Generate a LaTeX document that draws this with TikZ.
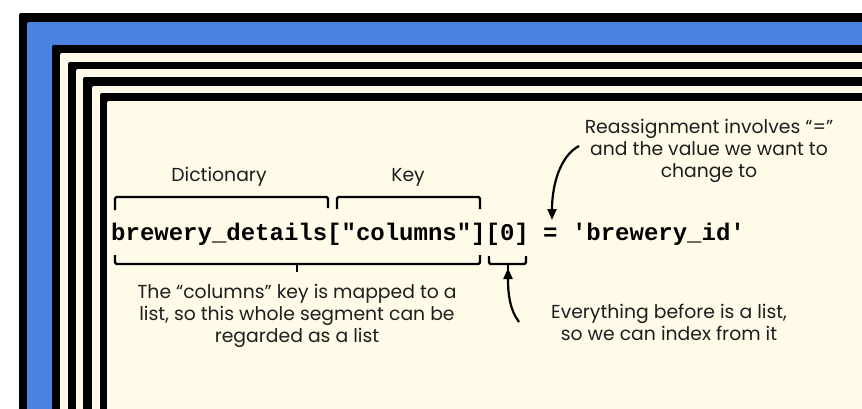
\documentclass[tikz,border=0pt]{standalone}
\usepackage{fontspec}
\setmainfont{Poppins}
\newfontfamily\codefont{Liberation Mono}
\usetikzlibrary{arrows.meta}
\definecolor{frameblue}{HTML}{4A82E2}
\definecolor{cream}{HTML}{FFFBE8}
\definecolor{ink}{HTML}{1E1E1E}
\tikzset{
  lbl/.style={font=\fontsize{18.8}{21.8}\selectfont, text=ink, align=center, inner sep=0pt},
  code/.style={font=\codefont\bfseries\fontsize{24}{24}\selectfont, text=black, inner sep=0pt, anchor=base west},
  brace/.style={draw=black, line width=2.4pt, rounded corners=1.5pt},
  arr/.style={draw=black, line width=2.2pt, -{Triangle[length=11pt,width=9pt]}},
  fr/.style={rounded corners=2pt}
}
\begin{document}
\begin{tikzpicture}[x=1pt,y=-1pt]
\useasboundingbox (0,0) rectangle (862,408);
\clip (0,0) rectangle (862,408);
\fill[white] (0,0) rectangle (862,408);
% nested frames
\fill[black,fr] (19,13) rectangle (900,450);
\fill[frameblue,fr] (27,22) rectangle (900,450);
\fill[black,fr] (52,45) rectangle (900,450);
\fill[cream,fr] (60,53) rectangle (900,450);
\fill[black,fr] (68,62) rectangle (900,450);
\fill[cream,fr] (76,69) rectangle (900,450);
\fill[black,fr] (83,77) rectangle (900,450);
\fill[cream,fr] (92,86) rectangle (900,450);
\fill[black,fr] (100,93) rectangle (900,450);
\fill[cream,fr] (107,101) rectangle (900,450);
% code line
\node[code] (c1) at (111,240) {brewery\_details["columns"][0] = 'brewery\_id'};
% labels
\node[lbl] (dict) at (219,177) {Dictionary};
\node[lbl] (key) at (408,177) {Key};
\node[lbl] (seg) at (297,316) {The “columns” key is mapped to a\\list, so this whole segment can be\\regarded as a list};
\node[lbl] (reas) at (709,151) {Reassignment involves “=”\\and the value we want to\\change to};
\node[lbl] (every) at (669,322) {Everything before is a list,\\so we can index from it};
% braces
\draw[brace] (115,210) -- (115,197) -- (328,197) -- (328,208);
\draw[brace] (337,209) -- (337,197) -- (480,197) -- (480,209);
\draw[brace] (115,255) -- (115,264) -- (480,264) -- (480,255);
\draw[brace] (297,264) -- (297,272);
\draw[brace] (489,256) -- (489,264) -- (526,264) -- (526,256);
\coordinate (tick0) at (508,264);
\draw[brace] (tick0) -- (508,270);
% arrows
\coordinate (t1) at (579,146);
\coordinate (h1) at (552,220);
\draw[arr] (t1) .. controls (560,156) and (552,185) .. (h1);
\coordinate (t2) at (519,322);
\coordinate (h2) at (508,268);
\draw[arr] (t2) .. controls (510,310) and (508,295) .. (h2);
\end{tikzpicture}
\end{document}
